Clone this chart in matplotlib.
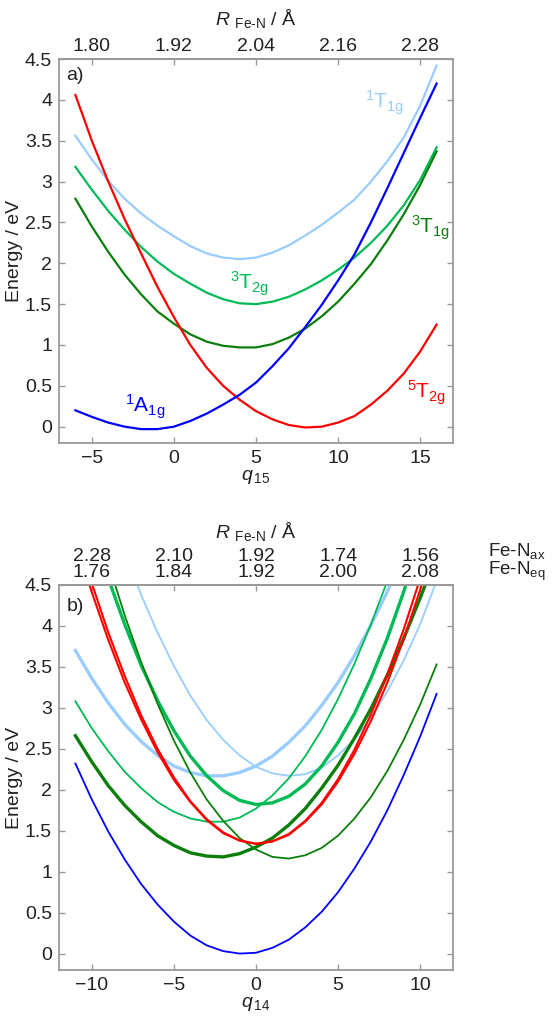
import matplotlib
matplotlib.use('Agg')
import matplotlib.pyplot as plt
from matplotlib.ticker import FormatStrFormatter

plt.rcParams['font.family'] = ['Liberation Sans', 'DejaVu Sans']
plt.rcParams['mathtext.fontset'] = 'custom'
plt.rcParams['mathtext.rm'] = 'Liberation Sans'
plt.rcParams['mathtext.it'] = 'Liberation Sans:italic'
plt.rcParams['font.size'] = 14

# ---- panel a): cut along q15 ----
q15 = [-6, -5, -4, -3, -2, -1, 0, 1, 2, 3, 4, 5, 6, 7, 8, 9, 10, 11, 12, 13, 14, 15, 16]
a1g_a = [0.20, 0.12, 0.05, 0.00, -0.03, -0.03, 0.00, 0.07, 0.16, 0.27, 0.39, 0.54,
         0.74, 0.96, 1.22, 1.49, 1.79, 2.11, 2.50, 2.92, 3.35, 3.78, 4.20]
t2g5_a = [4.06, 3.50, 3.00, 2.54, 2.12, 1.71, 1.34, 1.00, 0.72, 0.50, 0.33, 0.19,
          0.09, 0.02, -0.01, 0.00, 0.05, 0.13, 0.27, 0.44, 0.65, 0.92, 1.25]
t1g3_a = [2.79, 2.45, 2.14, 1.86, 1.62, 1.41, 1.26, 1.13, 1.04, 0.99, 0.97, 0.97,
          1.01, 1.09, 1.20, 1.35, 1.53, 1.75, 1.99, 2.28, 2.60, 2.96, 3.37]
t2g3_a = [3.18, 2.90, 2.64, 2.41, 2.20, 2.02, 1.87, 1.75, 1.64, 1.56, 1.51, 1.50,
          1.53, 1.59, 1.68, 1.79, 1.92, 2.07, 2.25, 2.46, 2.71, 3.02, 3.42]
t1g1_a = [3.56, 3.27, 3.01, 2.79, 2.61, 2.46, 2.33, 2.21, 2.12, 2.07, 2.05, 2.07,
          2.13, 2.22, 2.34, 2.47, 2.62, 2.78, 3.00, 3.25, 3.54, 3.93, 4.42]
top_ticks_a = [-5, 0, 5, 10, 15]
top_labels_a = ['1.80', '1.92', '2.04', '2.16', '2.28']

# ---- panel b): cut along q14 ----
q14 = [-11, -10, -9, -8, -7, -6, -5, -4, -3, -2, -1, 0, 1, 2, 3, 4, 5, 6, 7, 8, 9, 10, 11]
a1g_b = [2.32, 1.88, 1.49, 1.15, 0.85, 0.60, 0.39, 0.22, 0.10, 0.03, 0.00, 0.01,
         0.07, 0.17, 0.32, 0.51, 0.75, 1.04, 1.37, 1.75, 2.18, 2.65, 3.17]
t2g5_b1 = [5.05, 4.41, 3.83, 3.31, 2.86, 2.46, 2.12, 1.85, 1.63, 1.47, 1.38, 1.34,
           1.37, 1.45, 1.61, 1.82, 2.10, 2.44, 2.84, 3.31, 3.84, 4.44, 5.09]
t2g5_b2 = [5.18, 4.52, 3.92, 3.39, 2.91, 2.50, 2.15, 1.86, 1.64, 1.48, 1.38, 1.34,
           1.37, 1.46, 1.62, 1.84, 2.13, 2.49, 2.92, 3.41, 3.96, 4.58, 5.27]
t1g3_b_dbl = [2.66, 2.34, 2.05, 1.81, 1.61, 1.44, 1.32, 1.23, 1.19, 1.18, 1.22, 1.30,
              1.41, 1.57, 1.77, 2.02, 2.30, 2.63, 2.99, 3.40, 3.85, 4.34, 4.87]
t1g3_b_sgl = [6.22, 5.46, 4.77, 4.13, 3.56, 3.05, 2.60, 2.21, 1.88, 1.62, 1.41, 1.27,
              1.18, 1.16, 1.20, 1.29, 1.44, 1.65, 1.91, 2.23, 2.61, 3.04, 3.53]
t2g3_b_sgl = [3.08, 2.75, 2.47, 2.22, 2.02, 1.85, 1.73, 1.65, 1.61, 1.61, 1.66, 1.77,
              1.93, 2.14, 2.41, 2.73, 3.11, 3.54, 4.02, 4.55, 5.14, 5.79, 6.49]
t2g3_b_dbl = [5.89, 5.20, 4.58, 4.02, 3.52, 3.09, 2.72, 2.41, 2.17, 1.99, 1.87, 1.82,
              1.84, 1.92, 2.07, 2.29, 2.58, 2.93, 3.36, 3.85, 4.42, 5.05, 5.75]
t1g1_b_dbl = [3.70, 3.36, 3.06, 2.80, 2.59, 2.42, 2.29, 2.21, 2.17, 2.17, 2.21, 2.29,
              2.41, 2.58, 2.78, 3.03, 3.31, 3.64, 4.01, 4.42, 4.87, 5.37, 5.91]
t1g1_b_sgl = [6.78, 6.10, 5.47, 4.90, 4.38, 3.92, 3.51, 3.15, 2.85, 2.61, 2.42, 2.28,
              2.20, 2.17, 2.19, 2.27, 2.42, 2.62, 2.88, 3.20, 3.58, 4.02, 4.55]
top_ticks_b = [-10, -5, 0, 5, 10]
top_labels_b = ['2.28\n1.76', '2.10\n1.84', '1.92\n1.92', '1.74\n2.00', '1.56\n2.08']

energy_ticks = [0, 0.5, 1, 1.5, 2, 2.5, 3, 3.5, 4, 4.5]

c_blue = '#0000ff'
c_red = '#ff0000'
c_dkgreen = '#0b7f0b'
c_green = '#00bb55'
c_lblue = '#99ccff'
c_spine = '#999999'
c_text = '#222222'


def style_axes(ax, xlim, xticks):
    ax.set_xlim(*xlim)
    ax.set_ylim(-0.2, 4.5)
    ax.set_xticks(xticks)
    ax.set_yticks(energy_ticks)
    ax.yaxis.set_major_formatter(FormatStrFormatter('%g'))
    for s in ax.spines.values():
        s.set_color(c_spine)
        s.set_linewidth(1.3)
    ax.tick_params(direction='in', length=4, width=1, color=c_spine,
                   labelcolor=c_text, right=True, pad=5)
    ax.set_ylabel('Energy / eV', color=c_text, labelpad=1)


def add_top_axis(ax, ticks, labels, pad):
    sec = ax.secondary_xaxis('top')
    sec.set_xticks(ticks, labels=labels)
    sec.tick_params(direction='in', length=4, width=1, color=c_spine,
                    labelcolor=c_text, pad=3)
    sec.spines['top'].set_color(c_spine)
    sec.spines['top'].set_linewidth(1.3)
    for lab in sec.get_xticklabels():
        lab.set_linespacing(0.92)
    sec.set_xlabel(r'$R\ _{\mathrm{Fe}\text{-}\mathrm{N}}$ / Å', color=c_text, labelpad=pad)
    return sec


fig = plt.figure(figsize=(5.53, 10.25), dpi=100)
ax1 = fig.add_axes([0.1067, 0.5678, 0.7125, 0.3746])
ax2 = fig.add_axes([0.1067, 0.0537, 0.7125, 0.3756])

# panel a
lw = 1.6
ax1.plot(q15, t1g1_a, color=c_lblue, lw=lw)
ax1.plot(q15, t2g3_a, color=c_green, lw=lw)
ax1.plot(q15, t1g3_a, color=c_dkgreen, lw=lw)
ax1.plot(q15, t2g5_a, color=c_red, lw=lw)
ax1.plot(q15, a1g_a, color=c_blue, lw=lw)
style_axes(ax1, (-7, 17), [-5, 0, 5, 10, 15])
ax1.set_xlabel(r'$q_{\,15}$', color=c_text, labelpad=1)
add_top_axis(ax1, top_ticks_a, top_labels_a, 9)

ax1.text(-6.55, 4.3, 'a)', color=c_text, ha='left', va='center')
ax1.text(12.85, 3.97, r'$^{1}$T$_{\mathrm{1g}}$', color=c_lblue, ha='center', va='center', fontsize=15)
ax1.text(15.66, 2.44, r'$^{3}$T$_{\mathrm{1g}}$', color=c_dkgreen, ha='center', va='center', fontsize=15)
ax1.text(4.62, 1.75, r'$^{3}$T$_{\mathrm{2g}}$', color=c_green, ha='center', va='center', fontsize=15)
ax1.text(-1.78, 0.24, r'$^{1}$A$_{\mathrm{1g}}$', color=c_blue, ha='center', va='center', fontsize=15)
ax1.text(15.4, 0.42, r'$^{5}$T$_{\mathrm{2g}}$', color=c_red, ha='center', va='center', fontsize=15)

# panel b
thin, thick = 1.3, 2.4
ax2.plot(q14, t1g1_b_sgl, color=c_lblue, lw=thin)
ax2.plot(q14, t1g1_b_dbl, color=c_lblue, lw=thick)
ax2.plot(q14, t2g3_b_sgl, color=c_green, lw=thin)
ax2.plot(q14, t2g3_b_dbl, color=c_green, lw=thick)
ax2.plot(q14, t1g3_b_sgl, color=c_dkgreen, lw=thin)
ax2.plot(q14, t1g3_b_dbl, color=c_dkgreen, lw=thick)
ax2.plot(q14, t2g5_b1, color=c_red, lw=1.5)
ax2.plot(q14, t2g5_b2, color=c_red, lw=1.5)
ax2.plot(q14, a1g_b, color=c_blue, lw=thin)
style_axes(ax2, (-12, 12), [-10, -5, 0, 5, 10])
ax2.set_xlabel(r'$q_{\,14}$', color=c_text, labelpad=1)
add_top_axis(ax2, top_ticks_b, top_labels_b, 7)

ax2.text(-11.55, 4.24, 'b)', color=c_text, ha='left', va='center')
ax2.text(1.09, 1.088, r'Fe-N$_{\mathrm{ax}}$', transform=ax2.transAxes,
         color=c_text, ha='left', va='center', fontsize=13.5)
ax2.text(1.09, 1.036, r'Fe-N$_{\mathrm{eq}}$', transform=ax2.transAxes,
         color=c_text, ha='left', va='center', fontsize=13.5)

fig.savefig('out.png', dpi=100)
